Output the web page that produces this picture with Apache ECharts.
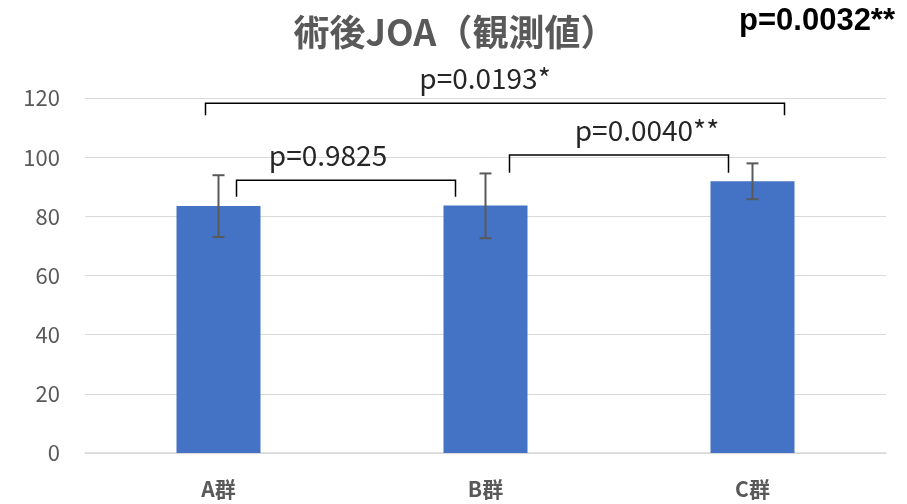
<!DOCTYPE html>
<html>
<head>
<meta charset="utf-8">
<script src="https://cdn.jsdelivr.net/npm/echarts@6/dist/echarts.min.js"></script>
<style>
  html, body { margin: 0; padding: 0; background: #fff; }
  #main { width: 907px; height: 504px; }
</style>
</head>
<body>
<div id="main"></div>
<script>
  const categories = ['A群', 'B群', 'C群'];
  const means = [83.5, 83.7, 91.9];
  const errLow = [73.0, 72.6, 85.8];
  const errHigh = [93.9, 94.5, 97.9];

  // brackets: from / to category, top y, leg end y, label
  const bracketFrom = [0, 1, 0];
  const bracketTo = [1, 2, 2];
  const bracketTop = [92.2, 100.7, 118.2];
  const bracketLeg = [86.6, 94.7, 114.2];
  const bracketLabel = ['p=0.9825', 'p=0.0040**', 'p=0.0193*'];

  // pixel tweaks for the brackets (left leg, right leg, label shift)
  const legShift = [[18, -30, -18], [24, -24, 28], [-13, 32, -10]];

  const font = '"Noto Sans CJK JP", "Noto Sans", sans-serif';
  const chart = echarts.init(document.getElementById('main'));

  chart.setOption({
    animation: false,
    title: {
      text: '術後JOA（観測値）',
      left: 450,
      top: 9,
      textAlign: 'center',
      textStyle: { fontFamily: font, fontSize: 36, fontWeight: 'bold', color: '#595959' }
    },
    graphic: [{
      type: 'text',
      right: 12,
      top: 6,
      style: { text: 'p=0.0032**', font: 'bold 31px "Liberation Sans", Arial, sans-serif', fill: '#000' }
    }],
    grid: { left: 85, right: 21, top: 98, bottom: 51 },
    xAxis: {
      type: 'category',
      data: categories,
      axisLine: { lineStyle: { color: '#d9d9d9', width: 1.5 } },
      axisTick: { show: false },
      axisLabel: { margin: 26, fontFamily: font, fontSize: 21, fontWeight: 'bold', color: '#595959' }
    },
    yAxis: {
      type: 'value',
      min: 0,
      max: 120,
      interval: 20,
      axisLine: { show: false },
      axisTick: { show: false },
      axisLabel: { margin: 25, fontFamily: font, fontSize: 22, color: '#595959' },
      splitLine: { lineStyle: { color: '#d9d9d9', width: 1 } }
    },
    series: [
      {
        type: 'bar',
        data: means,
        barWidth: 84,
        itemStyle: { color: '#4472C4' }
      },
      {
        type: 'custom',
        data: categories.map((c, i) => [i, errLow[i], errHigh[i]]),
        z: 10,
        renderItem: function (params, api) {
          const lo = api.coord([api.value(0), api.value(1)]);
          const hi = api.coord([api.value(0), api.value(2)]);
          const cap = 6;
          const st = { stroke: '#595959', lineWidth: 2 };
          return {
            type: 'group',
            children: [
              { type: 'line', shape: { x1: lo[0], y1: lo[1], x2: hi[0], y2: hi[1] }, style: st },
              { type: 'line', shape: { x1: lo[0] - cap, y1: lo[1], x2: lo[0] + cap, y2: lo[1] }, style: st },
              { type: 'line', shape: { x1: hi[0] - cap, y1: hi[1], x2: hi[0] + cap, y2: hi[1] }, style: st }
            ]
          };
        }
      },
      {
        type: 'custom',
        data: bracketFrom.map((f, i) => [f, bracketTo[i], bracketTop[i], bracketLeg[i], i]),
        z: 10,
        clip: false,
        renderItem: function (params, api) {
          const i = api.value(4);
          const a = api.coord([api.value(0), api.value(2)]);
          const b = api.coord([api.value(1), api.value(2)]);
          const leg = api.coord([api.value(0), api.value(3)])[1];
          const x1 = a[0] + legShift[i][0];
          const x2 = b[0] + legShift[i][1];
          const y = a[1];
          return {
            type: 'group',
            children: [
              {
                type: 'polyline',
                shape: { points: [[x1, leg], [x1, y], [x2, y], [x2, leg]] },
                style: { stroke: '#000', lineWidth: 1.5, fill: null }
              },
              {
                type: 'text',
                style: {
                  text: bracketLabel[i],
                  x: (x1 + x2) / 2 + legShift[i][2],
                  y: y - 25,
                  align: 'center',
                  verticalAlign: 'middle',
                  font: '28px ' + font,
                  fill: '#262626'
                }
              }
            ]
          };
        }
      }
    ]
  });
</script>
</body>
</html>
